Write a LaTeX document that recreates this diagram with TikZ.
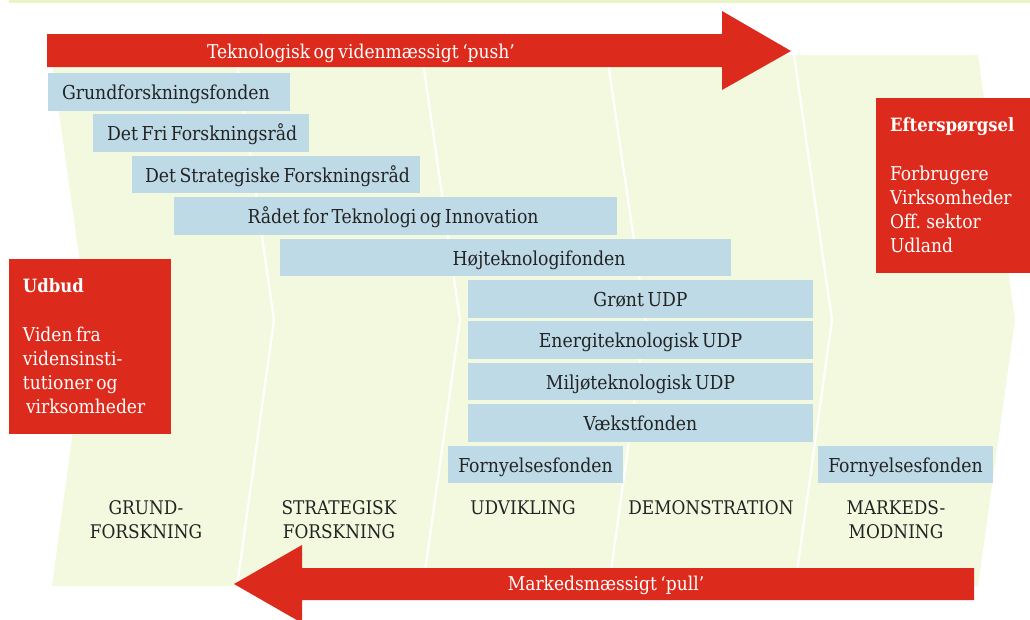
\documentclass[tikz,border=0pt]{standalone}
\usepackage{fontspec}
\setmainfont{DejaVu Serif Condensed}[WordSpace=0.65]
\definecolor{redA}{RGB}{220,42,28}
\definecolor{blueA}{RGB}{190,218,231}
\definecolor{greenA}{RGB}{243,249,222}
\definecolor{stripA}{RGB}{234,245,198}
\definecolor{textA}{RGB}{35,35,35}
\begin{document}
\begin{tikzpicture}[x=1pt,y=-1pt,
  every node/.style={inner sep=0pt, outer sep=0pt},
  fundbox/.style={fill=blueA, minimum height=37.5pt, anchor=north west},
  txt/.style={font=\fontsize{19.2}{24}\selectfont, text=textA},
  captxt/.style={font=\fontsize{18.8}{24}\selectfont, text=textA},
  wtxt/.style={font=\fontsize{19}{24}\selectfont, text=white},
  btxt/.style={font=\fontsize{18.3}{24}\selectfont\bfseries, text=white},
  sep/.style={draw=white, line width=2.2pt},
  redbox/.style={fill=redA, anchor=north west},
  arrowshape/.style={fill=redA}]
\useasboundingbox (0,0) rectangle (1030,619);
% top strip
\fill[stripA] (9,0) rectangle (1030,3);
% green background chevrons
\fill[greenA] (51,55) -- (978,55) -- (1015,320) -- (978,586) -- (52,586) -- (88,320) -- cycle;
\draw[sep] (236,55) -- (274,320) -- (237,586);
\draw[sep] (422,55) -- (460,320) -- (423,586);
\draw[sep] (607,55) -- (645.5,320) -- (609,586);
\draw[sep] (794,55) -- (832,320) -- (795,586);
% push arrow
\fill[arrowshape] (47,34) -- (722,34) -- (722,11) -- (791,51) -- (722,90) -- (722,67) -- (47,67) -- cycle;
\node[wtxt, anchor=base] (push) at (361,58) {Teknologisk og videnmæssigt ‘push’};
% pull arrow
\fill[arrowshape] (974,568) -- (302,568) -- (302,545) -- (234,584) -- (302,623) -- (302,600) -- (974,600) -- cycle;
\node[wtxt, anchor=base] (pull) at (606,590) {Markedsmæssigt ‘pull’};
% fund boxes
\node[fundbox, minimum width=242pt] (b1) at (48,73) {};
\node[txt, anchor=base west] (t1) at (62,99.5) {Grundforskningsfonden};
\node[fundbox, minimum width=216pt] (b2) at (93,114.4) {};
\node[txt, anchor=base west] (t2) at (107,140.9) {Det Fri Forskningsråd};
\node[fundbox, minimum width=288pt] (b3) at (132,155.8) {};
\node[txt, anchor=base west] (t3) at (145,182.3) {Det Strategiske Forskningsråd};
\node[fundbox, minimum width=443pt] (b4) at (174,197.2) {};
\node[txt, anchor=base] (t4) at (393,223.7) {Rådet for Teknologi og Innovation};
\node[fundbox, minimum width=451pt] (b5) at (280,238.6) {};
\node[txt, anchor=base] (t5) at (539,265.1) {Højteknologifonden};
\node[fundbox, minimum width=345pt] (b6) at (468,280) {};
\node[txt, anchor=base] (t6) at (640.5,306.5) {Grønt UDP};
\node[fundbox, minimum width=345pt] (b7) at (468,321.4) {};
\node[txt, anchor=base] (t7) at (640.5,347.9) {Energiteknologisk UDP};
\node[fundbox, minimum width=345pt] (b8) at (468,362.8) {};
\node[txt, anchor=base] (t8) at (640.5,389.3) {Miljøteknologisk UDP};
\node[fundbox, minimum width=345pt] (b9) at (468,404.2) {};
\node[txt, anchor=base] (t9) at (640.5,430.7) {Vækstfonden};
\node[fundbox, minimum width=175pt] (b10) at (448,445.6) {};
\node[txt, anchor=base] (t10) at (535.5,472.1) {Fornyelsesfonden};
\node[fundbox, minimum width=175pt] (b11) at (818,445.6) {};
\node[txt, anchor=base] (t11) at (905.5,472.1) {Fornyelsesfonden};
% Udbud
\node[redbox, minimum width=162pt, minimum height=175pt] (udbud) at (9,259) {};
\node[btxt, anchor=base west] (udbudh) at (23,292) {Udbud};
\node[wtxt, anchor=base west] (u1) at (23,341) {Viden fra};
\node[wtxt, anchor=base west] (u2) at (23,365) {vidensinsti-};
\node[wtxt, anchor=base west] (u3) at (23,389) {tutioner og};
\node[wtxt, anchor=base west] (u4) at (26,413) {virksomheder};
% Efterspoergsel
\node[redbox, minimum width=154pt, minimum height=175pt] (eft) at (876,98) {};
\node[btxt, anchor=base west] (efth) at (890,131) {Efterspørgsel};
\node[wtxt, anchor=base west] (e1) at (890,180) {Forbrugere};
\node[wtxt, anchor=base west] (e2) at (890,204) {Virksomheder};
\node[wtxt, anchor=base west] (e3) at (890,228) {Off. sektor};
\node[wtxt, anchor=base west] (e4) at (890,252) {Udland};
% column labels
\node[captxt, anchor=base] (c1a) at (146,514) {GRUND-};
\node[captxt, anchor=base] (c1b) at (146,538) {FORSKNING};
\node[captxt, anchor=base] (c2a) at (339,514) {STRATEGISK};
\node[captxt, anchor=base] (c2b) at (339,538) {FORSKNING};
\node[captxt, anchor=base] (c3) at (523,514) {UDVIKLING};
\node[captxt, anchor=base] (c4) at (711,514) {DEMONSTRATION};
\node[captxt, anchor=base] (c5a) at (896,514) {MARKEDS-};
\node[captxt, anchor=base] (c5b) at (896,538) {MODNING};
\end{tikzpicture}
\end{document}
